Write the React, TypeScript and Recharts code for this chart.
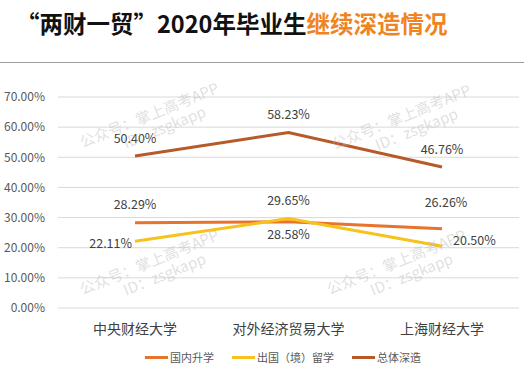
import { CartesianGrid, LabelList, Line, LineChart, XAxis, YAxis } from 'recharts';

const FONT = '"Noto Sans CJK SC", "Noto Sans", sans-serif';

const universities = ['中央财经大学', '对外经济贸易大学', '上海财经大学'];
const domesticRates = [28.29, 28.58, 26.26];
const abroadRates = [22.11, 29.65, 20.5];
const totalRates = [50.4, 58.23, 46.76];
const yTicks = [0, 10, 20, 30, 40, 50, 60, 70];

const seriesNames = {
  domestic: '国内升学',
  abroad: '出国（境）留学',
  total: '总体深造',
};

const chartData = universities.map((name, i) => ({
  name,
  domestic: domesticRates[i],
  abroad: abroadRates[i],
  total: totalRates[i],
}));

// where each point's label sits, per series
const labelSpots: Record<string, string[]> = {
  domestic: ['top', 'bottom', 'topFar'],
  abroad: ['left', 'top', 'right'],
  total: ['top', 'top', 'top'],
};

const colors = {
  domestic: '#E8732C',
  abroad: '#F6C21C',
  total: '#B65A2A',
};

function makeLabel(key: string) {
  return (props: any) => {
    const { x, y, value, index } = props;
    const spot = labelSpots[key][index];
    const text = `${Number(value).toFixed(2)}%`;
    let tx = x;
    let ty = y - 19;
    let anchor: 'start' | 'middle' | 'end' = 'middle';
    if (spot === 'bottom') ty = y + 12;
    if (spot === 'topFar') {
      tx = x + 4;
      ty = y - 27;
    }
    if (spot === 'left') {
      tx = x - 3;
      ty = y + 1;
      anchor = 'end';
    }
    if (spot === 'right') {
      tx = x + 11;
      ty = y - 7;
      anchor = 'start';
    }
    return (
      <text x={tx} y={ty} textAnchor={anchor} dominantBaseline="central" fontSize={12.5} fill="#404040" fontFamily={FONT}>
        {text}
      </text>
    );
  };
}

function LegendContent() {
  const items = [
    { key: 'domestic', label: seriesNames.domestic },
    { key: 'abroad', label: seriesNames.abroad },
    { key: 'total', label: seriesNames.total },
  ] as const;
  return (
    <div style={{ display: 'flex', gap: 18, fontFamily: FONT, fontSize: 11, color: '#595959' }}>
      {items.map((it) => (
        <div key={it.key} style={{ display: 'flex', alignItems: 'center' }}>
          <span style={{ display: 'inline-block', width: 23, height: 3, background: colors[it.key], marginRight: 2 }} />
          {it.label}
        </div>
      ))}
    </div>
  );
}

const watermarks = [
  { left: 77, top: 134 },
  { left: 77, top: 281 },
  { left: 329, top: 136 },
  { left: 324, top: 281 },
];

export default function App() {
  return (
    <div style={{ position: 'absolute', left: 0, top: 0, width: 524, height: 377, background: '#fff', overflow: 'hidden', fontFamily: FONT }}>
      <div style={{ position: 'absolute', left: 16, top: 6, fontSize: 23.5, fontWeight: 700, color: '#111', whiteSpace: 'nowrap', letterSpacing: 0 }}>
        “两财一贸”2020年毕业生<span style={{ color: '#F08322' }}>继续深造情况</span>
      </div>
      <div style={{ position: 'absolute', left: 0, top: 62, width: 524, borderTop: '1.5px solid #9c9c9c' }} />
      <div style={{ position: 'absolute', left: 0, top: 0 }}>
        <LineChart width={524} height={377} data={chartData} margin={{ top: 97, right: 5, bottom: 44, left: 8 }}>
          <CartesianGrid vertical={false} stroke="#d9d9d9" strokeWidth={1} />
          <XAxis
            dataKey="name"
            height={25}
            padding={{ left: 77, right: 77 }}
            axisLine={false}
            tickLine={false}
            tickSize={0}
            tickMargin={16}
            tick={{ fontSize: 14, fill: '#404040', fontFamily: FONT }}
          />
          <YAxis
            domain={[0, 70]}
            ticks={yTicks}
            width={50}
            axisLine={false}
            tickLine={false}
            tickSize={0}
            tickMargin={13}
            tickFormatter={(v) => `${v.toFixed(2)}%`}
            tick={{ fontSize: 12, fill: '#595959', fontFamily: FONT }}
          />
          <Line dataKey="domestic" name={seriesNames.domestic} stroke={colors.domestic} strokeWidth={3} dot={false} isAnimationActive={false}>
            <LabelList dataKey="domestic" content={makeLabel('domestic')} />
          </Line>
          <Line dataKey="abroad" name={seriesNames.abroad} stroke={colors.abroad} strokeWidth={3} dot={false} isAnimationActive={false}>
            <LabelList dataKey="abroad" content={makeLabel('abroad')} />
          </Line>
          <Line dataKey="total" name={seriesNames.total} stroke={colors.total} strokeWidth={3} dot={false} isAnimationActive={false}>
            <LabelList dataKey="total" content={makeLabel('total')} />
          </Line>
        </LineChart>
      </div>
      <div style={{ position: 'absolute', left: 145, top: 349 }}>
        <LegendContent />
      </div>
      {watermarks.map((w, i) => (
        <div
          key={i}
          style={{
            position: 'absolute',
            left: w.left,
            top: w.top,
            transform: 'rotate(-22deg)',
            transformOrigin: 'left top',
            color: 'rgba(185,185,185,0.45)',
            fontSize: 15,
            lineHeight: '17px',
            pointerEvents: 'none',
            whiteSpace: 'nowrap',
          }}
        >
          <div>公众号：掌上高考APP</div>
          <div style={{ paddingLeft: 40 }}>ID：zsgkapp</div>
        </div>
      ))}
    </div>
  );
}
